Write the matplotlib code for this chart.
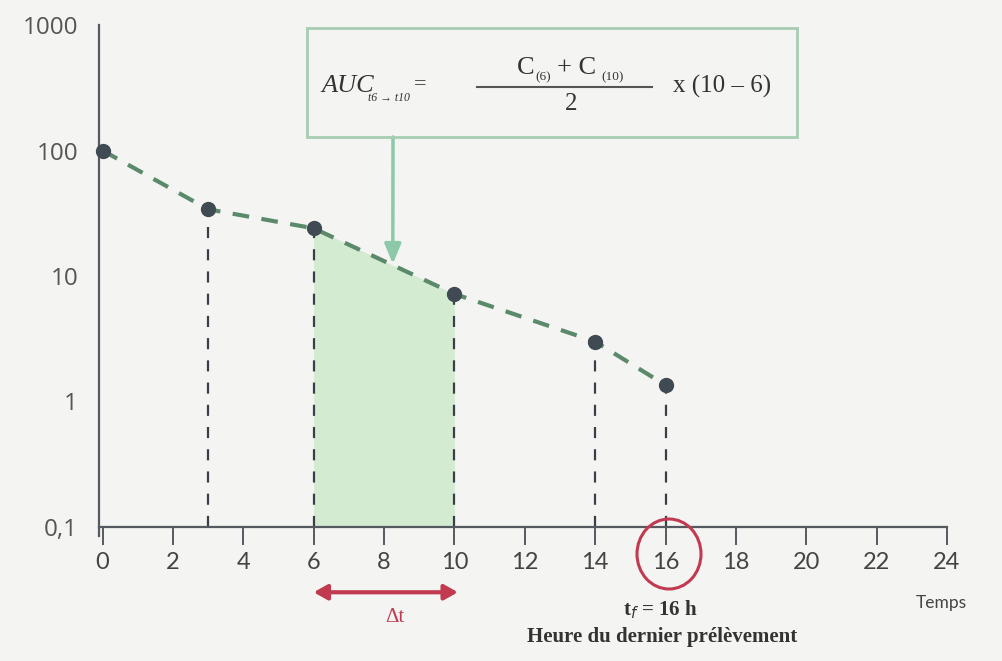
import matplotlib.pyplot as plt
from matplotlib.patches import Ellipse, Rectangle

# concentration / time samples (log scale)
temps = [0, 3, 6, 10, 14, 16]
conc = [100, 34, 24, 7.2, 3.0, 1.35]
x_ticks = list(range(0, 25, 2))
y_ticks = [0.1, 1, 10, 100, 1000]
y_labels = ["0,1", "1", "10", "100", "1000"]

W, H = 1003, 661
bg = "#f4f4f2"
grey = "#3f4a52"
green = "#5b8a6a"
red = "#c23a50"
serif = 'Liberation Serif'


def px(x, y):
    # pixel position from top-left -> figure fraction
    return (x / W, 1 - y / H)


fig = plt.figure(figsize=(W / 100, H / 100), dpi=100, facecolor=bg)
ax = fig.add_axes([99 / W, 1 - 527 / H, (947 - 99) / W, (527 - 25) / H])
ax.set_facecolor(bg)
ax.set_yscale('log')
ax.set_xlim(-0.1, 24)
ax.set_ylim(0.1, 1000)

for s in ['top', 'right']:
    ax.spines[s].set_visible(False)
for s in ['left', 'bottom']:
    ax.spines[s].set_color("#555a60")
    ax.spines[s].set_linewidth(1.6)
ax.spines['left'].set_bounds(0.085, 1000)

ax.set_xticks(x_ticks)
ax.set_xticklabels([str(t) for t in x_ticks], family='Lato', fontsize=17, color="#444")
ax.tick_params(axis='x', direction='out', length=13, width=1.4, color="#555a60", pad=5)
ax.set_yticks(y_ticks)
ax.set_yticklabels(y_labels, family='Open Sans', fontsize=17.5, color="#555")
ax.tick_params(axis='y', length=0, pad=15)
ax.yaxis.set_minor_locator(plt.NullLocator())

# AUC trapezoid between t=6 and t=10
i6, i10 = temps.index(6), temps.index(10)
ax.fill_between(temps[i6:i10 + 1], 0.1, conc[i6:i10 + 1], color="#d3ebd1", lw=0, zorder=1)

# vertical drop lines to the time axis
for t, c in zip(temps[1:], conc[1:]):
    ax.plot([t, t], [0.1, c], color="#3a3f45", lw=1.6, ls=(0, (5, 5)), zorder=2)

ax.plot(temps, conc, color=green, lw=3, ls=(0, (4, 3)), zorder=3)
ax.plot(temps, conc, 'o', color=grey, ms=10, zorder=4, clip_on=False)

# formula box
box = Rectangle(px(307, 137), 490 / W, 109 / H, transform=fig.transFigure,
                fill=False, ec="#a8cdb3", lw=2)
fig.add_artist(box)
fig.text(*px(321, 86), "AUC", fontsize=19, color="#333", va='center',
         family=serif, style='italic')
fig.text(*px(368, 98), "t6 → t10", fontsize=8.5, color="#333", va='center',
         family=serif, style='italic')
fig.text(*px(420, 85), "=", fontsize=16, color="#333", ha='center', va='center',
         family=serif)
fig.text(*px(517, 68), "C", fontsize=19, color="#333", va='center', family=serif)
fig.text(*px(535, 77), "(6)", fontsize=9.5, color="#333", va='center', family=serif)
fig.text(*px(557, 68), "+ C", fontsize=19, color="#333", va='center', family=serif)
fig.text(*px(601, 77), "(10)", fontsize=9.5, color="#333", va='center', family=serif)
fig.add_artist(plt.Line2D([477 / W, 652 / W], [1 - 87 / H] * 2, color="#555", lw=1.5))
fig.text(*px(571, 104), "2", fontsize=18, color="#333", ha='center', va='center',
         family=serif)
fig.text(*px(722, 86), "x (10 – 6)", fontsize=18, color="#333", ha='center', va='center',
         family=serif)

# arrow from box to the curve
ax.annotate("", xy=(8.25, 12.5), xytext=px(393, 137), textcoords='figure fraction',
            arrowprops=dict(arrowstyle='-|>,head_length=1.2,head_width=0.5',
                            color="#8cc9a8", lw=2.5, shrinkA=0, shrinkB=0), zorder=5)

# circle around last sampling time
circ = Ellipse(px(669, 554), 64 / W, 70 / H, transform=fig.transFigure,
               fill=False, ec=red, lw=2.2)
fig.add_artist(circ)

# delta t double arrow under the 6-10 interval
ax.annotate("", xy=(6.0, 10 ** -1.52), xytext=(10.1, 10 ** -1.52),
            arrowprops=dict(arrowstyle='<|-|>,head_length=0.8,head_width=0.45',
                            color=red, lw=3, shrinkA=0, shrinkB=0), annotation_clip=False)

fig.text(*px(395, 618), "Δt", fontsize=15, color=red, ha='center', va='center',
         family=serif)
fig.text(*px(660, 610), r"t$_f$ = 16 h", fontsize=15, color="#333", ha='center',
         va='center', family=serif, fontweight='bold')
fig.text(*px(662, 637), "Heure du dernier prélèvement", fontsize=15, color="#333",
         ha='center', va='center', family=serif, fontweight='bold')
fig.text(*px(941, 603), "Temps", fontsize=12.5, color="#444", ha='center', va='center',
         family='Lato')

fig.savefig("out.png", dpi=100, facecolor=bg)
